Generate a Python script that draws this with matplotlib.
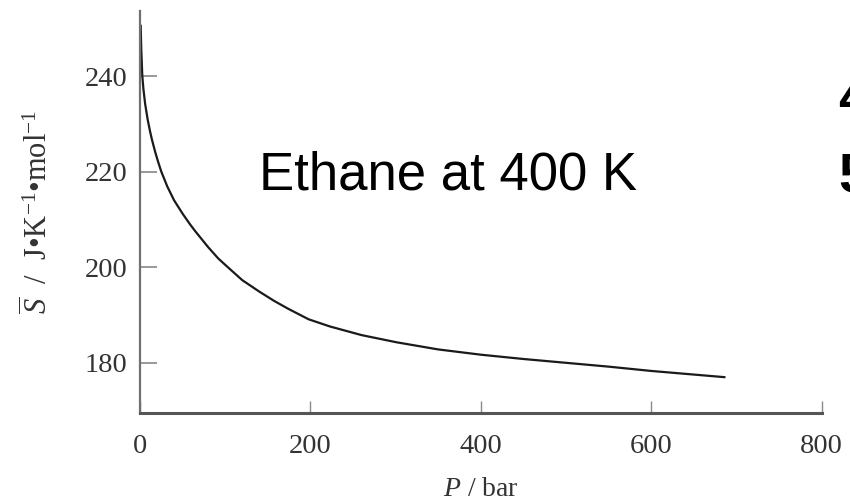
import matplotlib
matplotlib.use("Agg")
import matplotlib.pyplot as plt

# Molar entropy of ethane at 400 K vs pressure
pressure = [0.8, 1.5, 2.7, 4, 6, 9, 11.7, 14, 18, 21, 25, 32, 40, 50, 58.6, 65,
            80, 92, 105.6, 120, 140, 157, 174, 198, 223, 260, 301, 350, 400,
            450, 500, 550, 600, 633, 686]
entropy = [250.5, 245.5, 240.0, 237.3, 234.2, 230.9, 228.5, 226.7, 224.0, 222.2,
           220.0, 216.9, 214.0, 211.2, 209.0, 207.5, 204.2, 201.8, 199.6, 197.3,
           194.9, 193.0, 191.3, 189.1, 187.6, 185.8, 184.3, 182.8, 181.7, 180.8,
           180.0, 179.2, 178.3, 177.8, 177.0]

x_ticks = [0, 200, 400, 600, 800]
y_ticks = [180, 200, 220, 240]

plt.rcParams['font.family'] = 'Liberation Serif'
plt.rcParams['mathtext.fontset'] = 'custom'
plt.rcParams['mathtext.rm'] = 'Liberation Serif'
plt.rcParams['mathtext.it'] = 'Liberation Serif:italic'

W, H = 850, 501
fig = plt.figure(figsize=(W / 100, H / 100), dpi=100)
ax = fig.add_axes([140 / W, 1 - 413 / H, (821.5 - 140) / W, (413 - 11) / H])

ax.plot(pressure, entropy, color='#1a1a1a', lw=1.6)

ax.set_xlim(0, 800)
ax.set_ylim(169.5, 253.6)
ax.set_xticks(x_ticks)
ax.set_yticks(y_ticks)

for side in ['top', 'right']:
    ax.spines[side].set_visible(False)
ax.spines['left'].set_color('#707070')
ax.spines['left'].set_linewidth(1.6)
ax.spines['bottom'].set_color('#555555')
ax.spines['bottom'].set_linewidth(2.2)

ax.tick_params(axis='x', direction='in', length=9, width=1.0, color='#888888',
               pad=15, labelsize=20.5, labelcolor='#333333')
ax.tick_params(axis='y', direction='in', length=12, width=1.2, color='#888888',
               pad=9, labelsize=20.5, labelcolor='#333333')

ax.set_xlabel('$P$ / bar', fontsize=20, color='#333333', labelpad=13)
ax.set_ylabel(r'$\overline{S}$  /  J•K$^{-1}$•mol$^{-1}$', fontsize=22,
              color='#333333', labelpad=22)

fig.text(259 / W, 1 - 189 / H, 'Ethane at 400 K', family='Liberation Sans',
         fontsize=38, va='baseline', ha='left', color='black')

# text cut off at the right edge, as in the source
fig.text(838 / W, 1 - 115 / H, '4', family='Liberation Sans', fontsize=40,
         fontweight='bold', va='baseline', ha='left')
fig.text(838 / W, 1 - 192 / H, '5', family='Liberation Sans', fontsize=40,
         fontweight='bold', va='baseline', ha='left')

fig.savefig('out.png', dpi=100)
